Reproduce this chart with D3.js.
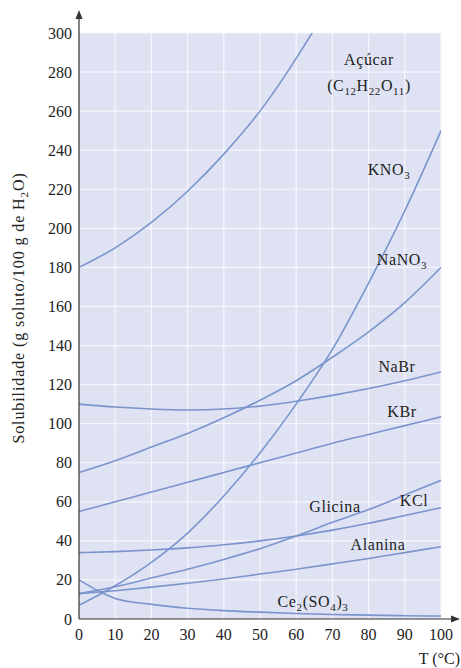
<!DOCTYPE html>
<html><head><meta charset="utf-8">
<script src="https://cdn.jsdelivr.net/npm/d3@7"></script>
<style>
html,body{margin:0;padding:0;background:#fff;}
svg text{font-family:"Liberation Serif","DejaVu Serif",serif;fill:#222;}
</style></head>
<body><div id="chart"></div>
<script>
const temps = [0,10,20,30,40,50,60,70,80,90,100];
const xTicks = [0,10,20,30,40,50,60,70,80,90,100];
const yTicks = [0,20,40,60,80,100,120,140,160,180,200,220,240,260,280,300];
const acucar = [180,190,203,219,238,260,287,318,355,400,450];
const kno3   = [7,17,29,44,63,85,110,138,172,209,250];
const nano3  = [75,81,88,95,103,112,122,134,147,162,180];
const nabr   = [110,108.5,107.5,107,107.5,109,111.5,114.5,118,122,126.5];
const kbr    = [55,60,65,70,75,80,85,90,94.5,99,103.5];
const kcl    = [34,34.5,35.3,36.4,38,40,42.5,45.5,49,53,57];
const glicina= [13,16.5,21,25.5,30.5,36,42.5,49.5,56,63.5,71];
const alanina= [13,14.5,16.3,18.3,20.5,23,25.5,28.2,31,34,37];
const ce2    = [20,10.5,7.5,5.5,4.3,3.5,2.8,2.3,2,1.7,1.5];
const seriesList = [acucar,kno3,nano3,nabr,kbr,kcl,glicina,alanina,ce2];

const W=461,H=668;
const svg=d3.select("#chart").append("svg").attr("width",W).attr("height",H);
const x=d3.scaleLinear().domain([0,100]).range([79,441]);
const y=d3.scaleLinear().domain([0,300]).range([619,33]);

svg.append("rect").attr("x",x(0)).attr("y",y(300)).attr("width",x(100)-x(0)).attr("height",y(0)-y(300)).attr("fill","#dee2f3");
svg.append("g").selectAll("line").data(xTicks.slice(1)).join("line")
 .attr("x1",d=>x(d)).attr("x2",d=>x(d)).attr("y1",y(0)).attr("y2",y(300))
 .attr("stroke","#f6f7fc").attr("stroke-width",1.2);
svg.append("g").selectAll("line").data(yTicks.slice(1)).join("line")
 .attr("x1",x(0)).attr("x2",x(100)).attr("y1",d=>y(d)).attr("y2",d=>y(d))
 .attr("stroke","#f6f7fc").attr("stroke-width",1.2);

svg.append("clipPath").attr("id","clip").append("rect")
 .attr("x",x(0)).attr("y",y(300)).attr("width",x(100)-x(0)).attr("height",y(0)-y(300));

const line=d3.line().x((d,i)=>x(temps[i])).y(d=>y(d)).curve(d3.curveMonotoneX);
svg.append("g").attr("clip-path","url(#clip)").selectAll("path").data(seriesList).join("path")
 .attr("d",d=>line(d)).attr("fill","none").attr("stroke","#7b94cd").attr("stroke-width",1.6);

const axColor="#333";
svg.append("line").attr("x1",x(0)).attr("x2",x(0)).attr("y1",y(0)).attr("y2",17).attr("stroke",axColor).attr("stroke-width",1.2);
svg.append("path").attr("d",`M${x(0)},10 L${x(0)-3.5},19 L${x(0)+3.5},19 Z`).attr("fill",axColor);
svg.append("line").attr("x1",x(0)).attr("x2",453).attr("y1",y(0)).attr("y2",y(0)).attr("stroke",axColor).attr("stroke-width",1.2);
svg.append("path").attr("d",`M460,${y(0)} L451,${y(0)-3.5} L451,${y(0)+3.5} Z`).attr("fill",axColor);

svg.append("g").selectAll("text").data(yTicks).join("text")
 .attr("x",72).attr("y",d=>y(d)+5.5).attr("text-anchor","end").attr("font-size",16).text(d=>d);
svg.append("g").selectAll("text").data(xTicks).join("text")
 .attr("x",d=>x(d)).attr("y",640).attr("text-anchor","middle").attr("font-size",16).text(d=>d);

svg.append("text").attr("x",460).attr("y",664).attr("text-anchor","end").attr("font-size",16).text("T (°C)");

const yt=svg.append("text").attr("transform","translate(24,308) rotate(-90)").attr("text-anchor","middle").attr("font-size",16).attr("letter-spacing",0.9);
yt.append("tspan").text("Solubilidade (g soluto/100 g de H");
yt.append("tspan").attr("font-size",11).attr("dy",4).text("2");
yt.append("tspan").attr("dy",-4).text("O)");

function label(xp,yp,parts,anchor){
  const t=svg.append("text").attr("x",xp).attr("y",yp).attr("text-anchor",anchor||"middle").attr("font-size",16).attr("letter-spacing",0.6);
  let sub=false;
  parts.forEach(p=>{
    if(typeof p==="string"){ const s=t.append("tspan").text(p); if(sub){s.attr("dy",-4);sub=false;} }
    else { const s=t.append("tspan").attr("font-size",11).text(p.s); if(!sub){s.attr("dy",4);sub=true;} }
  });
}
label(369,65,["Açúcar"]);
label(369,91,["(C",{s:"12"},"H",{s:"22"},"O",{s:"11"},")"]);
label(389,175,["KNO",{s:"3"}]);
label(402,265,["NaNO",{s:"3"}]);
label(397,372,["NaBr"]);
label(402,417,["KBr"]);
label(414,506,["KCl"]);
label(335,512,["Glicina"]);
label(378,550,["Alanina"]);
label(313,607,["Ce",{s:"2"},"(SO",{s:"4"},")",{s:"3"}]);
</script></body></html>
